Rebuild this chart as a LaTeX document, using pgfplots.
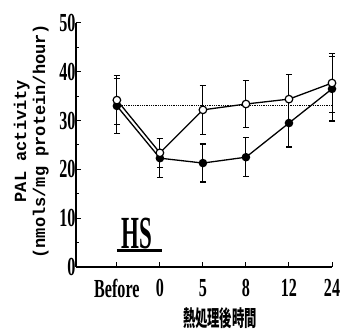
\documentclass[border=0pt]{standalone}
\usepackage{fontspec}
\setmainfont{Liberation Serif}
\newfontfamily\cond[FakeStretch=0.62]{Liberation Serif}
\newfontfamily\hsfont[FakeStretch=0.5]{Liberation Serif}
\newfontfamily\monob{Liberation Mono}
\newfontfamily\cjk[FakeStretch=0.56]{Noto Sans CJK JP}
\usepackage{pgfplots}
\pgfplotsset{compat=1.18}
\usetikzlibrary{calc}
\begin{document}
\begin{tikzpicture}
\begin{axis}[
  name=ax,
  scale only axis,
  width=256pt, height=244pt,
  xmin=-0.95, xmax=5, ymin=0, ymax=50,
  axis x line=bottom, axis y line=left,
  axis line style={-, line width=1.2pt},
  tick align=inside,
  major tick length=5pt, minor tick length=3pt,
  tick style={line width=1pt, black},
  xtick={0,1,2,3,4,5},
  xticklabels={Before,0,5,8,12,24},
  ytick={0,10,20,30,40,50},
  minor ytick={5,15,25,35,45},
  /pgf/number format/assume math mode=true,
  ticklabel style={font=\cond\bfseries\fontsize{26}{26}\selectfont},
  yticklabel style={xshift=3pt},
  xticklabel style={yshift=-9pt},
  xlabel={\cjk\bfseries\fontsize{22}{22}\selectfont 熱処理後時間},
  xlabel style={at={(axis description cs:0.5625,-0.21)}, anchor=center},
  ylabel={PAL activity\\(nmols/mg protein/hour)},
  ylabel style={align=center, font=\monob\bfseries\fontsize{17}{19}\selectfont,
    at={(axis description cs:-0.175,0.516)}, anchor=center, rotate=0},
  clip=false,
]
% dotted reference line
\addplot[black, densely dotted, line width=0.8pt] coordinates {(0,33.2) (5,33.2)};
% filled circles
\addplot[black, line width=1.3pt, mark=*, mark size=3.6pt, mark options={fill=black},
  error bars/.cd, y dir=both, y explicit,
  error bar style={line width=1pt}, error mark options={rotate=90, mark size=3.2pt, line width=1.2pt}]
  coordinates {
  (0,33.0) +- (0,5.7)
  (1,22.3) +- (0,4.0)
  (2,21.3) +- (0,3.9)
  (3,22.5) +- (0,4.0)
  (4,29.5) +- (0,4.9)
  (5,36.5) +- (0,6.6)
  };
% open circles
\addplot[black, line width=1.3pt, mark=*, mark size=3.8pt, mark options={fill=white, line width=1.2pt},
  error bars/.cd, y dir=both, y explicit,
  error bar style={line width=1pt}, error mark options={rotate=90, mark size=3.2pt, line width=1.2pt}]
  coordinates {
  (0,34.2) +- (0,5.0)
  (1,23.4) +- (0,3.0)
  (2,32.2) +- (0,5.0)
  (3,33.4) +- (0,4.8)
  (4,34.4) +- (0,5.0)
  (5,37.7) +- (0,6.0)
  };
\node at (axis cs:0.47,6.9) {\hsfont\bfseries\fontsize{46}{46}\selectfont HS};
\draw[line width=2.2pt] (axis cs:0,3.4) -- (axis cs:1.05,3.4);
\end{axis}
\pgfresetboundingbox
\path[use as bounding box] ($(ax.south west)+(-76pt,-67pt)$) rectangle ($(ax.north east)+(8pt,23pt)$);
\end{tikzpicture}
\end{document}
